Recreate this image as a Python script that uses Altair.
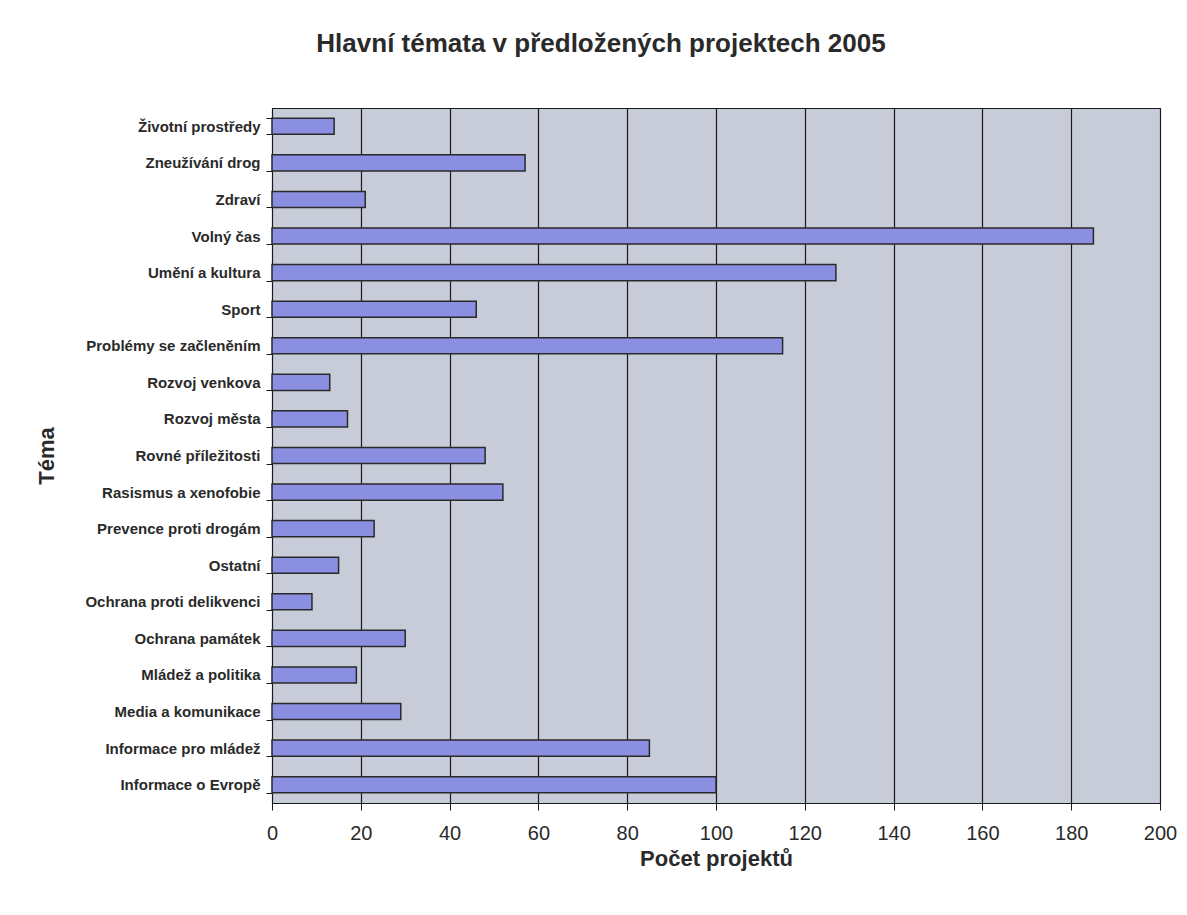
import altair as alt
import pandas as pd

categories = [
    "Životní prostředy", "Zneužívání drog", "Zdraví", "Volný čas", "Umění a kultura",
    "Sport", "Problémy se začleněním", "Rozvoj venkova", "Rozvoj města",
    "Rovné příležitosti", "Rasismus a xenofobie", "Prevence proti drogám", "Ostatní",
    "Ochrana proti delikvenci", "Ochrana památek", "Mládež a politika",
    "Media a komunikace", "Informace pro mládež", "Informace o Evropě",
]
values = [14, 57, 21, 185, 127, 46, 115, 13, 17, 48, 52, 23, 15, 9, 30, 19, 29, 85, 100]
x_ticks = [0, 20, 40, 60, 80, 100, 120, 140, 160, 180, 200]

df = pd.DataFrame({"tema": categories, "pocet": values})

FONT = "Liberation Sans"

chart = (
    alt.Chart(df)
    .mark_bar(color="#8a8fe2", stroke="#2a2a2a", strokeWidth=1.5)
    .encode(
        x=alt.X(
            "pocet:Q",
            scale=alt.Scale(domain=[0, 200], nice=False),
            axis=alt.Axis(
                title="Počet projektů",
                values=x_ticks,
                grid=True,
                gridColor="#1a1a1a",
                gridWidth=1.2,
                domainColor="#1a1a1a",
                tickColor="#1a1a1a",
                tickSize=7,
                labelFlush=False,
                labelOverlap=False,
                labelFontSize=20,
                labelColor="#2a2a2a",
                labelFont=FONT,
                labelPadding=13,
                titleFont=FONT,
                titleFontSize=22,
                titleFontWeight="bold",
                titleColor="#2a2a2a",
                titlePadding=5,
            ),
        ),
        y=alt.Y(
            "tema:N",
            sort=categories,
            scale=alt.Scale(paddingInner=0.56, paddingOuter=0.28),
            axis=alt.Axis(
                title="Téma",
                tickBand="extent",
                grid=False,
                domainColor="#1a1a1a",
                tickColor="#1a1a1a",
                tickSize=6,
                labelLimit=400,
                labelFontSize=15,
                labelFontWeight="bold",
                labelColor="#2a2a2a",
                labelFont=FONT,
                labelPadding=6,
                titleFont=FONT,
                titleFontSize=22,
                titleFontWeight="bold",
                titleColor="#2a2a2a",
                titlePadding=26,
            ),
        ),
    )
    .properties(
        width=888,
        height=695,
        autosize=alt.AutoSizeParams(type="none"),
        padding={"left": 264, "top": 100, "right": 19, "bottom": 98},
        title=alt.TitleParams(
            "Hlavní témata v předložených projektech 2005",
            font=FONT,
            fontSize=26,
            fontWeight="bold",
            color="#2a2a2a",
            anchor="middle",
            frame="group",
            dx=-115,
            offset=44,
        ),
    )
    .configure(background="white")
    .configure_view(fill="#c7ccd8", stroke="#1a1a1a", strokeWidth=1)
)

chart.save("out.html", embed_options={"renderer": "svg", "actions": False})
